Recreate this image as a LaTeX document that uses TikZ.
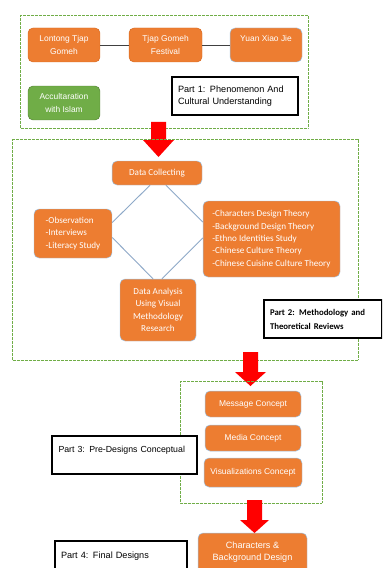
\documentclass[tikz,border=0pt]{standalone}
\usepackage{fontspec}
\setmainfont{Liberation Sans}
\newfontfamily\calibri{Carlito}
\usetikzlibrary{calc}

\definecolor{boxorange}{HTML}{ED7D31}
\definecolor{boxgreen}{HTML}{70AD47}
\definecolor{darkgreen}{HTML}{548235}
\definecolor{edgeblue}{HTML}{9DC3E6}
\definecolor{edgeorange}{HTML}{D8691F}
\definecolor{linkblue}{HTML}{8EA9C8}

\tikzset{
  frame/.style={draw=boxgreen, densely dotted, line width=0.9pt},
  obox/.style={draw=edgeblue, fill=boxorange, rounded corners=0.25cm, text=white,
    align=center, inner sep=0pt, line width=0.7pt, font=\fontsize{12}{17.5}\selectfont},
  cbox/.style={obox, font=\calibri\fontsize{13}{17.5}\selectfont},
  gbox/.style={obox, draw=darkgreen, fill=boxgreen},
  partbox/.style={draw=black, line width=1.7pt, fill=white, inner sep=5pt, align=left,
    font=\fontsize{13}{17.5}\selectfont},
  link/.style={draw=linkblue, line width=1.3pt},
  rowlink/.style={draw=black!75, line width=1pt},
  bigarrow/.style={fill=red},
}

\begin{document}
\begin{tikzpicture}[x=0.05cm,y=-0.05cm]
\clip (0,0) rectangle (382,568);
\fill[white] (0,0) rectangle (382,568);

% part 1
\draw[frame] (20,15) rectangle (308,128);
\node[obox, draw=edgeorange, minimum width=3.6cm, minimum height=1.7cm] (lontong) at (64,45) {Lontong Tjap\\ Gomeh};
\node[obox, draw=edgeorange, minimum width=3.65cm, minimum height=1.7cm] (festival) at (165.5,45) {Tjap Gomeh\\ Festival};
\node[obox, minimum width=3.6cm, minimum height=1.7cm] (yuan) at (266,45) {Yuan Xiao Jie\\ ~};
\node[gbox, minimum width=3.6cm, minimum height=1.7cm] (islam) at (64,103) {Accultaration\\ with Islam};
\node[partbox, minimum width=6.3cm, minimum height=1.9cm, text width=5.7cm] (part1) at (235,96) {Part 1: Phenomenon And\\ Cultural Understanding};
\draw[rowlink] (lontong) -- (festival);
\draw[rowlink] (festival) -- (yuan);

\fill[bigarrow] (151,122) -- (166,122) -- (166,140) -- (174,140) -- (158.5,157) -- (143,140) -- (151,140) -- cycle;

% part 2
\draw[frame] (12,139) rectangle (358,360);
\node[cbox, minimum width=4.5cm, minimum height=1.2cm] (datacol) at (157,173) {Data Collecting};
\node[cbox, minimum width=3.9cm, minimum height=2.45cm, align=left] (obs) at (73,233.5) {-Observation\\ -Interviews\\ -Literacy Study};
\node[cbox, minimum width=6.85cm, minimum height=3.8cm, align=left] (theory) at (271.5,239) {-Characters Design Theory\\ -Background Design Theory\\ -Ethno Identities Study\\ -Chinese Culture Theory\\ -Chinese Cuisine Culture Theory};
\node[cbox, minimum width=3.8cm, minimum height=3.1cm] (analysis) at (158,310) {Data Analysis\\ Using Visual\\ Methodology\\ Research};
\node[partbox, minimum width=5.9cm, minimum height=1.9cm, text width=5.3cm, font=\calibri\bfseries\fontsize{12.5}{20}\selectfont] (part2) at (323,319) {Part 2: Methodology and\\ Theoretical Reviews};
\draw[link] ($(datacol.south)+(-7,0)$) -- ($(obs.east)+(0,-11)$);
\draw[link] ($(datacol.south)+(9,0)$) -- ($(theory.west)+(0,-17)$);
\draw[link] ($(obs.east)+(0,4)$) -- ($(analysis.north)+(-5,0)$);
\draw[link] ($(theory.west)+(0,-1)$) -- ($(analysis.north)+(4,0)$);

\fill[bigarrow] (243,352) -- (258,352) -- (258,372) -- (266,372) -- (250.5,386) -- (235,372) -- (243,372) -- cycle;

% part 3
\draw[frame] (180,381) rectangle (322,503);
\node[obox, minimum width=4.8cm, minimum height=1.3cm] (message) at (253,404) {Message Concept};
\node[obox, minimum width=4.8cm, minimum height=1.3cm] (media) at (253,438) {Media Concept};
\node[obox, minimum width=4.9cm, minimum height=1.45cm] (visual) at (253,472.5) {Visualizations Concept};
\node[partbox, minimum width=7.25cm, minimum height=1.9cm, text width=6.6cm, font=\fontsize{12.5}{17.5}\selectfont] (part3) at (124.5,455) {Part 3: Pre-Designs Conceptual\\ ~};

\fill[bigarrow] (247,500) -- (262,500) -- (262,520) -- (269,520) -- (254.5,533) -- (240,520) -- (247,520) -- cycle;

% part 4
\node[obox, minimum width=5.45cm, minimum height=2.4cm, font=\fontsize{13}{17.5}\selectfont] (chars) at (252.5,557) {Characters \&\\ Background Design\\ ~};
\node[partbox, minimum width=6.6cm, minimum height=2cm, text width=6cm] (part4) at (121,561) {Part 4: Final Designs\\ ~};
\end{tikzpicture}
\end{document}
